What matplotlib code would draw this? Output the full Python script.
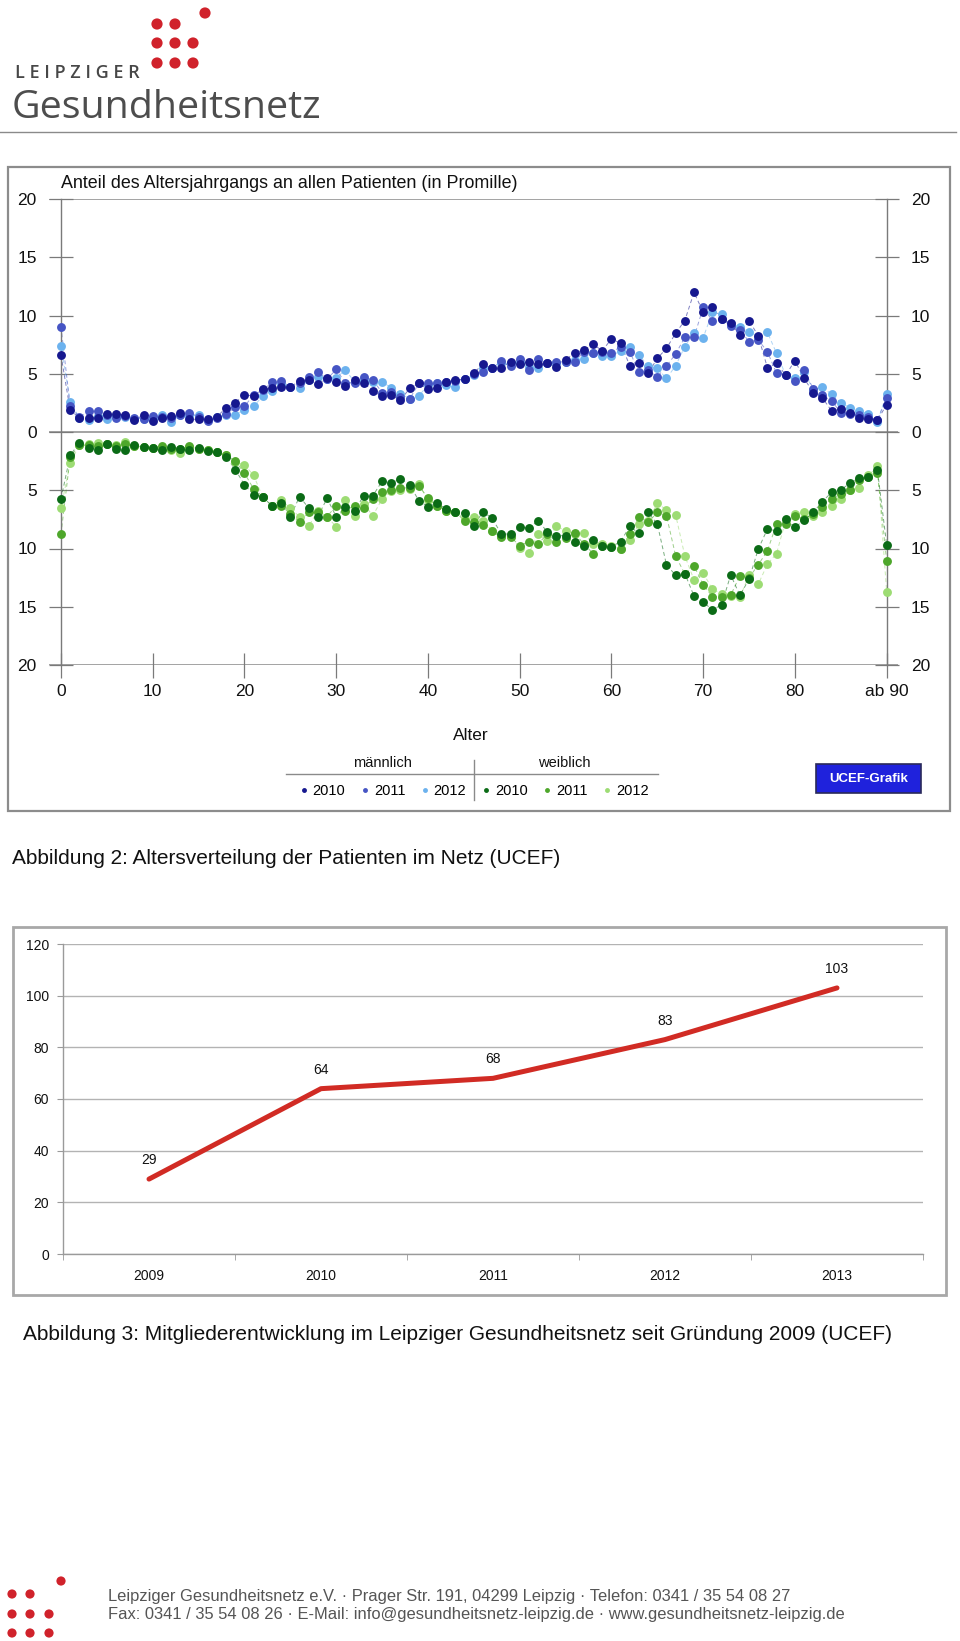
import numpy as np
import matplotlib.pyplot as plt
from matplotlib.patches import Rectangle, Circle

plt.rcParams['font.family'] = ['Liberation Sans', 'DejaVu Sans']

# --- Abbildung 2: Anteil des Altersjahrgangs (Promille), Alter 0 .. 90
ages = np.arange(0, 91)

m2010 = [6.6, 1.87, 1.24, 1.24, 1.24, 1.58, 1.58, 1.44, 1.06, 1.44,
         0.95, 1.24, 1.35, 1.67, 1.09, 1.09, 1.09, 1.3, 2.1, 2.53,
         3.2, 3.07, 3.65, 3.74, 3.88, 3.88, 4.37, 4.45, 4.08, 4.6,
         4.31, 3.97, 4.45, 4.22, 3.5, 3.07, 3.16, 2.73, 3.74, 4.17,
         3.68, 3.74, 4.31, 4.45, 4.54, 5.1, 5.8, 5.46, 5.52, 6.03,
         5.8, 6.03, 5.8, 5.95, 5.55, 6.18, 6.81, 7.04, 7.53, 6.98,
         7.99, 7.61, 5.69, 5.95, 5.03, 6.32, 7.18, 8.48, 9.57, 11.98,
         10.29, 10.72, 9.68, 9.34, 8.33, 9.57, 8.25, 5.52, 5.89, 4.89,
         6.12, 4.6, 3.39, 2.93, 1.81, 1.95, 1.64, 1.24, 1.15, 1.01, 2.36]
m2011 = [9.05, 2.2, 1.3, 1.78, 1.78, 1.5, 1.24, 1.35, 1.24, 1.15,
         1.35, 1.3, 1.24, 1.44, 1.67, 1.3, 0.95, 1.2, 1.52, 2.15,
         2.2, 3.2, 3.6, 4.25, 4.37, 3.88, 4.17, 4.74, 5.17, 4.54,
         5.37, 4.22, 4.22, 4.74, 4.45, 3.39, 3.45, 3.02, 2.82, 4.17,
         4.17, 4.17, 4.31, 4.37, 4.54, 4.95, 5.17, 5.46, 6.1, 5.66,
         6.26, 5.32, 6.26, 5.9, 6.03, 6.03, 6.03, 6.9, 6.81, 6.9,
         6.81, 7.33, 6.9, 5.11, 5.32, 4.74, 5.66, 6.7, 8.13, 8.13,
         10.69, 9.54, 9.68, 9.14, 8.76, 7.76, 7.9, 6.9, 5.03, 4.89,
         4.4, 5.32, 3.7, 3.16, 2.67, 1.67, 1.58, 1.44, 1.29, 1.06, 2.96]
m2012 = [7.4, 2.6, 1.2, 1.06, 1.4, 1.15, 1.4, 1.3, 1.15, 1.15,
         1.24, 1.5, 0.86, 1.44, 1.35, 1.44, 1.06, 1.3, 1.44, 1.5,
         1.87, 2.2, 3.1, 3.53, 4.08, 3.88, 3.74, 4.45, 4.74, 4.54,
         4.66, 5.32, 4.31, 4.45, 4.31, 4.31, 3.79, 3.3, 2.87, 3.1,
         4.02, 4.17, 4.02, 3.82, 4.54, 4.9, 5.46, 5.46, 5.9, 5.9,
         6.03, 5.6, 5.46, 5.9, 5.9, 6.03, 6.18, 6.26, 6.81, 6.52,
         6.52, 6.98, 7.33, 6.61, 5.66, 5.46, 4.6, 5.69, 7.33, 8.53,
         8.1, 10.26, 10.11, 9.25, 9.05, 8.62, 8.19, 8.56, 6.75, 4.89,
         4.6, 5.17, 3.6, 3.88, 3.22, 2.53, 2.07, 1.78, 1.58, 0.86, 3.3]

f2010 = [5.74, 2.01, 0.92, 1.35, 1.52, 1.0, 1.49, 1.58, 1.15, 1.29,
         1.38, 1.58, 1.29, 1.43, 1.52, 1.35, 1.64, 1.72, 2.15, 3.22,
         4.54, 5.37, 5.55, 6.38, 6.12, 7.27, 5.55, 6.52, 7.27, 5.69,
         7.27, 6.46, 6.75, 5.46, 5.46, 4.22, 4.39, 4.02, 4.51, 5.89,
         6.4, 6.12, 6.61, 6.84, 6.98, 8.04, 6.84, 7.41, 8.76, 8.76,
         8.13, 8.27, 7.61, 8.56, 8.9, 8.9, 9.48, 9.77, 9.25, 9.77,
         9.85, 9.4, 8.1, 8.7, 6.9, 7.9, 11.4, 12.3, 12.15, 14.08,
         14.6, 15.26, 14.85, 12.27, 14.02, 12.64, 10.06, 8.33, 8.48, 7.47,
         8.19, 7.56, 6.9, 5.97, 5.17, 4.97, 4.39, 3.96, 3.88, 3.3, 9.68]
f2011 = [8.76, 2.15, 1.15, 1.15, 1.23, 1.06, 1.23, 1.06, 1.23, 1.29,
         1.35, 1.23, 1.43, 1.43, 1.23, 1.43, 1.58, 1.72, 2.01, 2.5,
         3.53, 4.89, 5.55, 6.32, 6.32, 7.04, 7.76, 6.9, 6.9, 7.27,
         6.32, 6.75, 6.32, 6.52, 5.74, 5.17, 4.97, 4.8, 4.8, 4.6,
         5.69, 6.32, 6.75, 6.84, 7.67, 7.7, 7.99, 8.53, 9.05, 8.99,
         9.77, 9.4, 9.62, 8.76, 9.4, 9.1, 8.7, 9.62, 10.43, 9.77,
         9.85, 10.0, 8.76, 7.32, 7.76, 6.9, 7.18, 10.63, 12.2, 11.49,
         13.1, 14.14, 14.14, 14.0, 12.35, 12.5, 11.4, 10.2, 7.9, 7.9,
         7.18, 7.47, 7.04, 6.46, 5.74, 5.31, 4.97, 4.16, 3.88, 3.53, 11.06]
f2012 = [6.52, 2.64, 1.15, 1.0, 0.95, 1.06, 1.15, 0.86, 1.23, 1.29,
         1.35, 1.43, 1.58, 1.78, 1.29, 1.43, 1.58, 1.72, 2.01, 2.6,
         2.81, 3.73, 5.6, 6.32, 5.8, 6.55, 7.27, 8.1, 6.75, 7.27,
         8.13, 5.83, 7.18, 6.18, 7.18, 5.74, 5.09, 4.97, 4.88, 4.45,
         5.83, 6.32, 6.75, 6.84, 7.47, 7.32, 7.61, 8.47, 8.9, 8.9,
         9.97, 10.4, 8.76, 9.34, 8.1, 8.47, 8.76, 8.7, 9.62, 9.62,
         9.77, 10.06, 9.28, 7.9, 7.61, 6.12, 6.69, 7.12, 10.63, 12.7,
         12.1, 13.5, 13.9, 14.08, 14.2, 12.27, 13.07, 11.35, 10.43, 7.56,
         7.04, 6.9, 7.18, 6.9, 6.32, 5.74, 4.97, 4.8, 3.73, 2.96, 13.7]

age_ticks = [0, 10, 20, 30, 40, 50, 60, 70, 80, 90]
age_labels = ['0', '10', '20', '30', '40', '50', '60', '70', '80', 'ab 90']
years_legend = ['2010', '2011', '2012']
male_colors = ['#16188f', '#4655c4', '#6cb2ee']
female_colors = ['#0b6b16', '#4ea72b', '#9ddc74']

# --- Abbildung 3: Mitgliederentwicklung
member_years = ['2009', '2010', '2011', '2012', '2013']
members = [29, 64, 68, 83, 103]

W, H = 960, 1641
fig = plt.figure(figsize=(W / 100, H / 100), dpi=100)


def add_ax(x0, y0, x1, y1):
    # axes from pixel box (top-left origin)
    return fig.add_axes([x0 / W, 1 - y1 / H, (x1 - x0) / W, (y1 - y0) / H])


# background layer in pixel coordinates
bg = fig.add_axes([0, 0, 1, 1])
bg.set_xlim(0, W)
bg.set_ylim(H, 0)
bg.axis('off')

# header logo
red = '#d0222b'
for cx, cy in [(205, 13), (157, 24), (175, 24), (157, 43), (175, 43), (193, 43),
               (157, 63), (175, 63), (193, 63)]:
    bg.add_patch(Circle((cx, cy), 5.6, color=red, lw=0))
bg.text(15, 73, 'L E I P Z I G E R', fontsize=13, family='Open Sans',
        weight='semibold', color='#474747', va='center', ha='left')
bg.text(12, 118, 'Gesundheitsnetz', fontsize=28.4, family='Open Sans',
        color='#4d4d4d', va='baseline', ha='left')
bg.plot([0, 956], [132, 132], color='#8a8a8a', lw=1.0)

# frame of chart 1
bg.add_patch(Rectangle((8, 167), 942, 644, fill=False, ec='#8c8c8c', lw=1.6))

# chart 1 axes: age scale 9.174 px / year, 0 at px 61; +-20 at px 199 / 665
ax1 = add_ax(49, 199, 898, 665)
ax1.set_xlim((49 - 61) / 9.174, (898 - 61) / 9.174)
ax1.set_ylim(-20, 20)
ax1.patch.set_alpha(0)

for vals, col in zip([m2012, m2011, m2010], male_colors[::-1]):
    ax1.plot(ages, vals, color=col, lw=0.7, ls=(0, (4, 3)), alpha=0.55, zorder=2)
for vals, col in zip([f2012, f2011, f2010], female_colors[::-1]):
    ax1.plot(ages, -np.array(vals), color=col, lw=0.7, ls=(0, (4, 3)), alpha=0.55, zorder=2)

handles = []
for vals, col in zip([m2012, m2011, m2010], male_colors[::-1]):
    h, = ax1.plot(ages, vals, ls='none', marker='o', ms=6.4, mfc=col, mec='none', zorder=3)
    handles.append(h)
for vals, col in zip([f2012, f2011, f2010], female_colors[::-1]):
    h, = ax1.plot(ages, -np.array(vals), ls='none', marker='o', ms=6.4, mfc=col, mec='none', zorder=3)
    handles.append(h)
male_handles = handles[0:3][::-1]
female_handles = handles[3:6][::-1]

for yv in (20, 0, -20):
    ax1.axhline(yv, color='#8a8a8a', lw=1.1, zorder=1)

ax1.spines['top'].set_visible(False)
ax1.spines['bottom'].set_visible(False)
ax1.spines['bottom'].set_position(('data', -20))
ax1.spines['left'].set_position(('data', 0))
ax1.spines['right'].set_position(('data', 90))
for s in ('left', 'right'):
    ax1.spines[s].set_color('#7a7a7a')
    ax1.spines[s].set_linewidth(1.0)

yt = np.arange(-20, 21, 5)
ax1.set_yticks(yt)
ax1.set_yticklabels([str(abs(v)) for v in yt])
ax1.tick_params(axis='y', direction='inout', length=17, width=0.9, color='#7a7a7a',
                left=True, right=True, labelleft=True, labelright=True,
                pad=9, labelsize=12.5, labelcolor='#111111')
ax1.set_xticks(age_ticks)
ax1.set_xticklabels(age_labels)
ax1.tick_params(axis='x', direction='inout', length=18, width=0.9, color='#7a7a7a',
                pad=5, labelsize=12.5, labelcolor='#111111')

bg.text(61, 183, 'Anteil des Altersjahrgangs an allen Patienten (in Promille)',
        fontsize=12.9, color='#111111', va='center', ha='left')
bg.text(471, 735, 'Alter', fontsize=12.5, color='#111111', va='center', ha='center')

# legend
bg.text(382, 763, 'männlich', fontsize=10.5, color='#111111', va='center', ha='center')
bg.text(564, 763, 'weiblich', fontsize=10.5, color='#111111', va='center', ha='center')
bg.plot([286, 658], [774, 774], color='#8a8a8a', lw=1.0)
bg.plot([474, 474], [760, 800], color='#8a8a8a', lw=1.0)
fig.legend(male_handles + female_handles, years_legend + years_legend,
           ncol=6, loc='center', bbox_to_anchor=(474 / W, 1 - 791 / H),
           frameon=False, fontsize=10.5, markerscale=0.55, handlelength=0.6,
           handletextpad=0.3, columnspacing=1.05, borderpad=0)

# UCEF-Grafik badge
bg.add_patch(Rectangle((816, 764), 105, 29, fc='#1f22dc', ec='#2a2a5a', lw=1.2))
bg.text(868.5, 778.5, 'UCEF-Grafik', fontsize=9.5, weight='bold', color='white',
        va='center', ha='center')

bg.text(12, 859, 'Abbildung 2: Altersverteilung der Patienten im Netz (UCEF)',
        fontsize=15, color='#111111', va='center', ha='left')

# chart 2
bg.add_patch(Rectangle((13, 927), 933, 368, fill=False, ec='#a8a8a8', lw=2.0))
ax2 = add_ax(63, 944, 923, 1254)
xs = np.arange(len(members))
ax2.plot(xs, members, color='#d12b24', lw=3.6, solid_capstyle='round',
         solid_joinstyle='round', zorder=3)
for x, v in zip(xs, members):
    ax2.annotate(str(v), (x, v), xytext=(0, 19), textcoords='offset pixels',
                 ha='center', va='center', fontsize=10, color='#111111')
ax2.set_xlim(-0.5, len(members) - 0.5)
ax2.set_ylim(0, 120)
ax2.set_yticks(np.arange(0, 121, 20))
ax2.yaxis.grid(True, color='#b3b3b3', lw=1.0)
ax2.set_axisbelow(True)
for s in ('top', 'right'):
    ax2.spines[s].set_visible(False)
for s in ('left', 'bottom'):
    ax2.spines[s].set_color('#9a9a9a')
    ax2.spines[s].set_linewidth(1.0)
ax2.set_xticks(xs)
ax2.set_xticklabels(member_years)
ax2.set_xticks(np.arange(-0.5, len(members)), minor=True)
ax2.tick_params(axis='x', which='major', length=0, pad=11, labelsize=10,
                labelcolor='#111111')
ax2.tick_params(axis='x', which='minor', length=4, color='#9a9a9a', direction='out')
ax2.tick_params(axis='y', length=4, color='#9a9a9a', pad=6, labelsize=10,
                labelcolor='#111111')

bg.text(23, 1335, 'Abbildung 3: Mitgliederentwicklung im Leipziger Gesundheitsnetz '
        'seit Gründung 2009 (UCEF)', fontsize=15, color='#111111',
        va='center', ha='left')

# footer
for cx, cy in [(61, 1581), (12, 1594), (30, 1594), (12, 1614), (30, 1614), (49, 1614),
               (12, 1633), (30, 1633), (49, 1633)]:
    bg.add_patch(Circle((cx, cy), 4.6, color=red, lw=0))
bg.text(108, 1596, 'Leipziger Gesundheitsnetz e.V. · Prager Str. 191, 04299 Leipzig · '
        'Telefon: 0341 / 35 54 08 27', fontsize=11.9, color='#555555',
        va='center', ha='left')
bg.text(108, 1615, 'Fax: 0341 / 35 54 08 26 · E-Mail: info@gesundheitsnetz-leipzig.de · '
        'www.gesundheitsnetz-leipzig.de', fontsize=11.9, color='#555555',
        va='center', ha='left')

fig.savefig('out.png', dpi=100)
